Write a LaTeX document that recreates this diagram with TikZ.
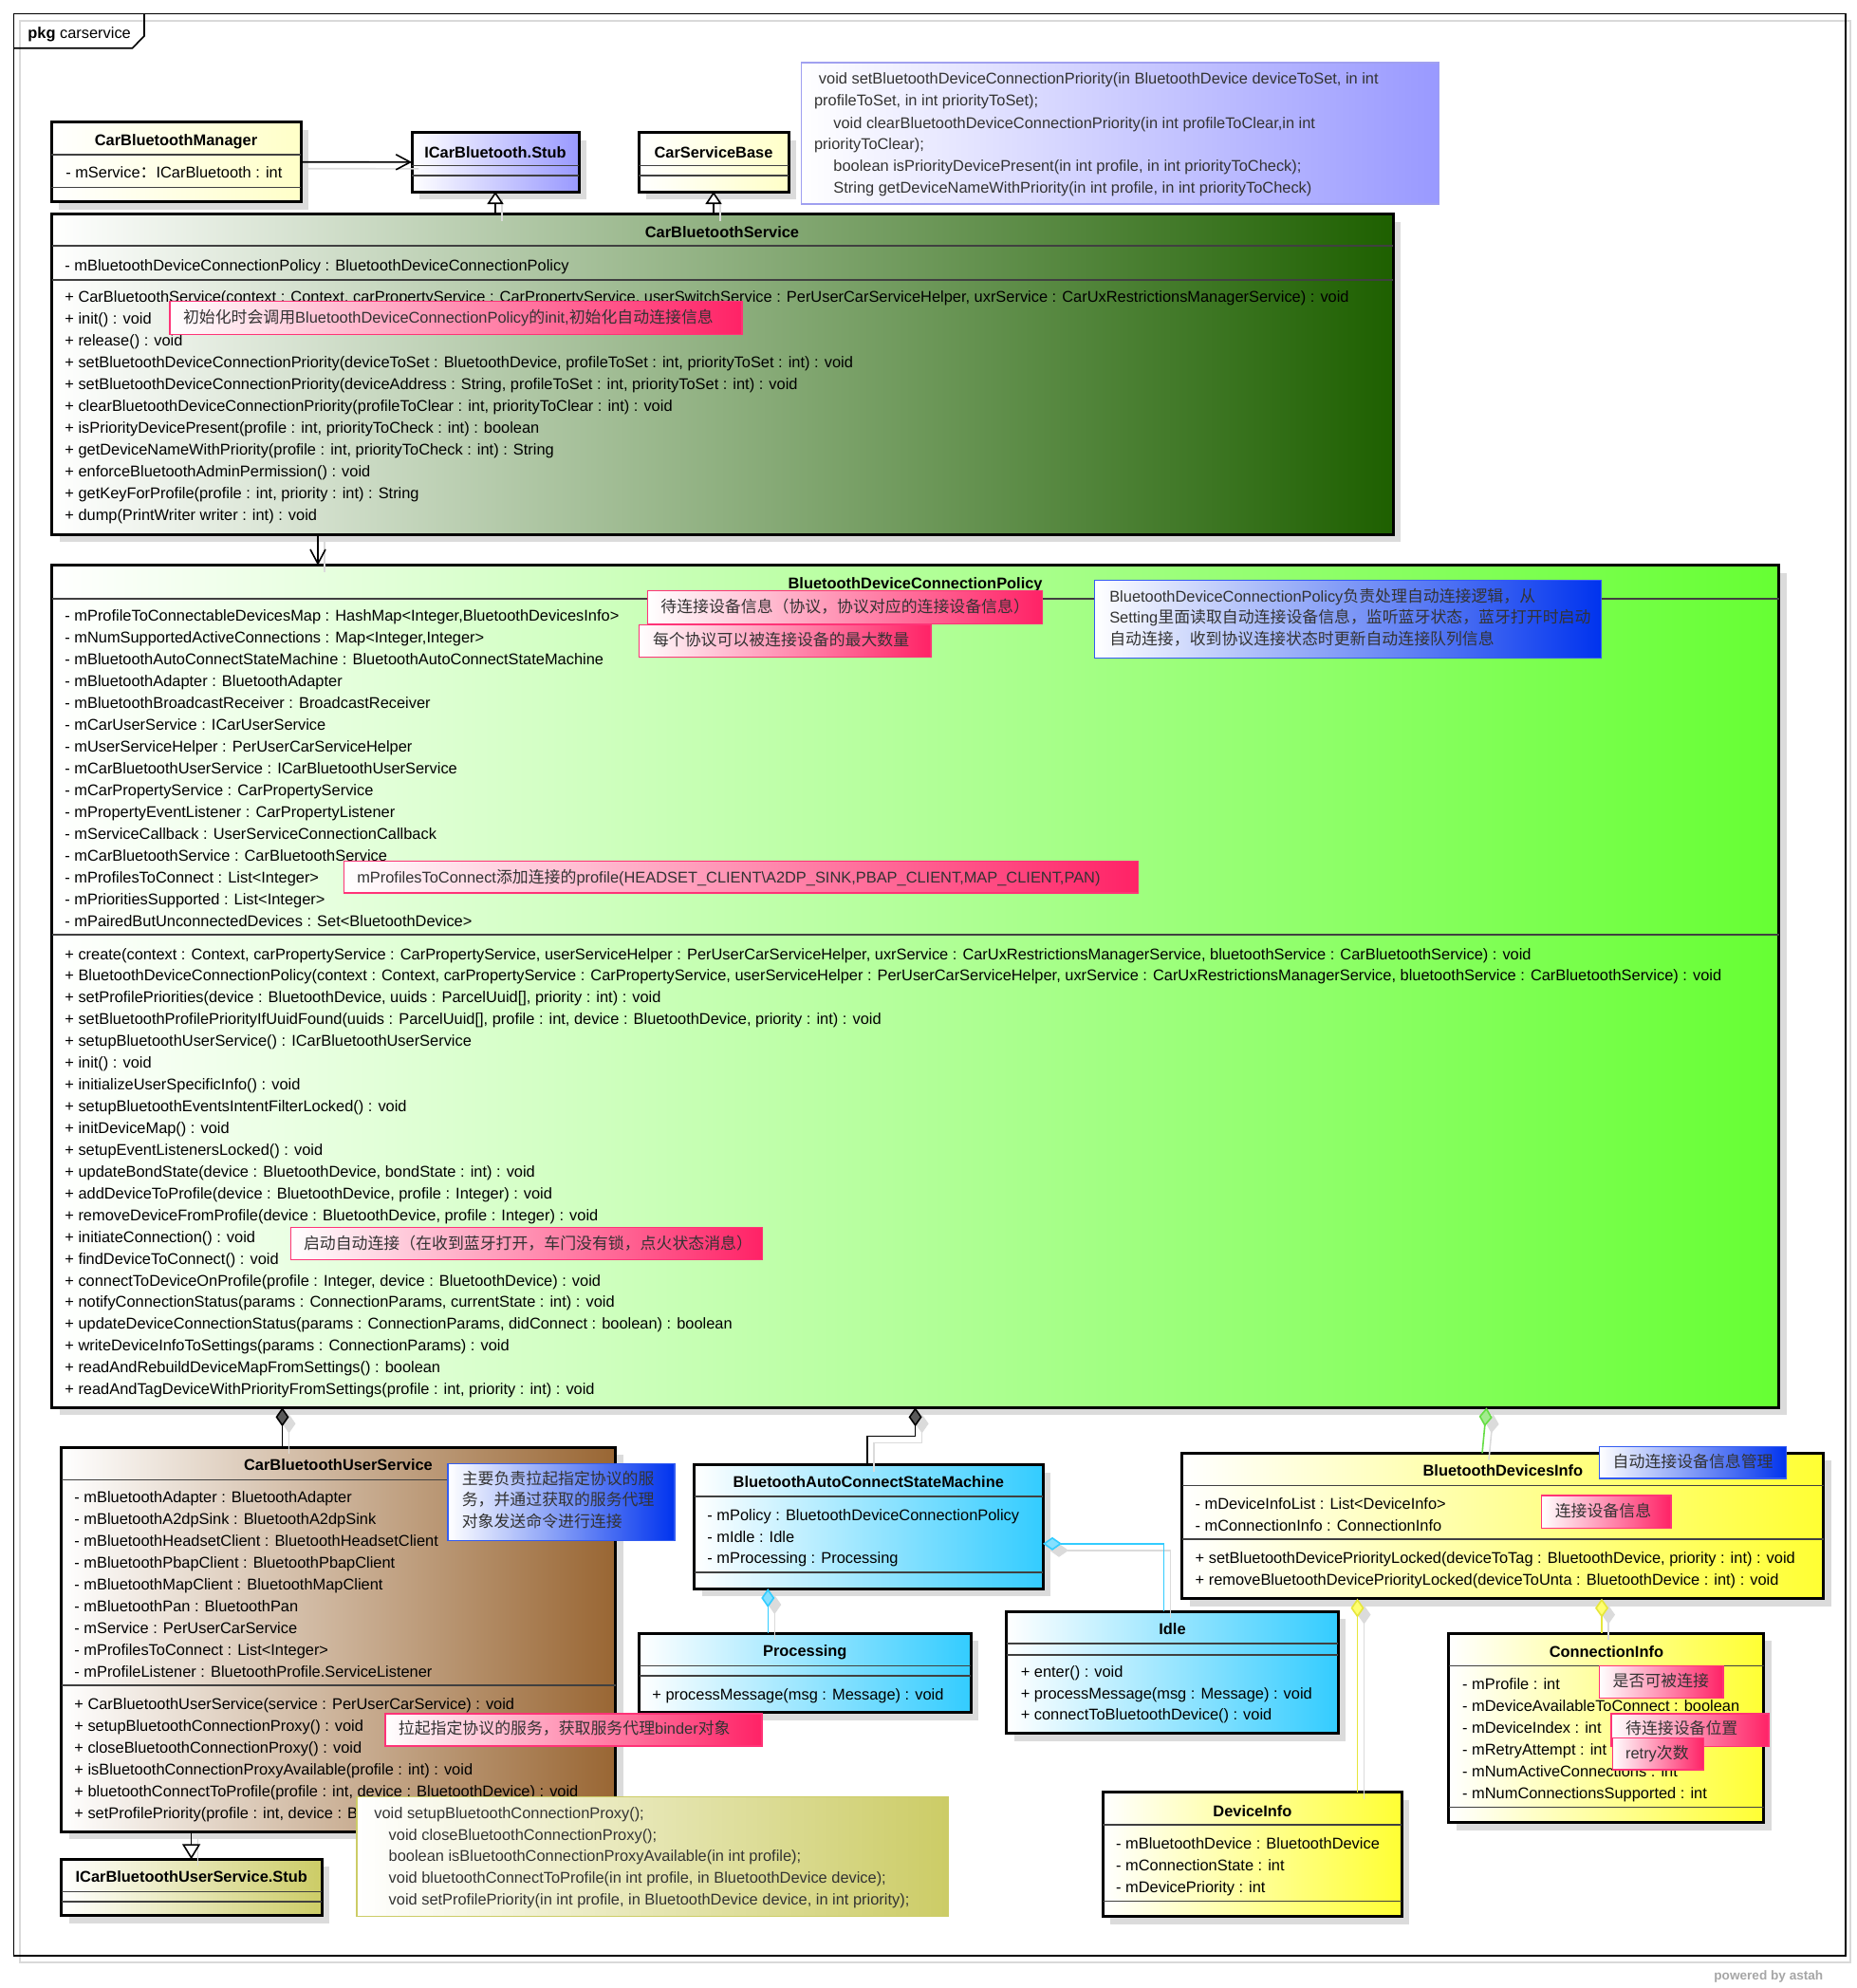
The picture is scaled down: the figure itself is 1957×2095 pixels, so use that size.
\documentclass[tikz,border=0pt]{standalone}
\usepackage{fontspec}
\setmainfont{Liberation Sans}
\newfontfamily\cjk[Scale=1.03]{Noto Sans CJK SC}
\usetikzlibrary{arrows.meta,fit,shadows}
\newcommand\zh[1]{{\cjk #1}}
\definecolor{ylw}{RGB}{255,255,200}
\definecolor{stubc}{RGB}{153,153,255}
\definecolor{cbsg}{RGB}{30,96,0}
\definecolor{bdcpg}{RGB}{102,255,51}
\definecolor{brownc}{RGB}{153,102,51}
\definecolor{olivec}{RGB}{204,204,102}
\definecolor{cyanc}{RGB}{51,204,255}
\definecolor{yelc}{RGB}{255,255,51}
\definecolor{pinkc}{RGB}{255,34,102}
\definecolor{pinkb}{RGB}{255,51,119}
\definecolor{bluec}{RGB}{0,51,238}
\definecolor{purpb}{RGB}{160,160,240}
\definecolor{greenl}{RGB}{102,221,68}
\definecolor{yell}{RGB}{230,230,60}
\newcommand\cls[6]{\node[clsbox, left color=white, right color=#6, fit={(#2,#3) (#4,#5)}] (#1) {};}
\newcommand\sepl[3]{\draw[sepline] (#1,#3) -- (#2,#3);}
\newcommand\txtlines[5]{\foreach \itm [count=\idx] in {#5} {\node[txt] (#1\idx) at (#2,{#3+5+(\idx-1)*#4}) {\itm};}}
\begin{document}
\begin{tikzpicture}[x=0.5pt,y=-0.5pt,
  txt/.style={inner sep=0, font=\fontsize{8.2}{9.8}\selectfont, anchor=base west},
  ntxt/.style={txt, text=black!80},
  ttl/.style={inner sep=0, font=\bfseries\fontsize{8.2}{9.8}\selectfont, anchor=base},
  clsbox/.style={draw=black, line width=1.5pt, inner sep=0, outer sep=0,
    drop shadow={shadow xshift=4pt, shadow yshift=-4pt, fill=black!14, opacity=1}},
  sepline/.style={draw=black!75, line width=0.8pt},
  notebox/.style={inner sep=0, outer sep=0, line width=0.7pt},
  pinknote/.style={notebox, draw=pinkb, left color=white, right color=pinkc},
  bluenote/.style={notebox, draw=bluec!80, left color=white, right color=bluec},
  purpnote/.style={notebox, draw=purpb, left color=white, right color=stubc},
  olivenote/.style={notebox, draw=olivec, left color=white, right color=olivec},
  conn/.style={draw=black, line width=0.8pt},
  shd/.style={draw=black!14, line width=0.8pt, transform canvas={shift={(3.5pt,-3.5pt)}}},
  assoc/.style={conn, -{Straight Barb[length=7.5pt,width=8pt]}},
  gen/.style={conn, -{Triangle[length=6.5pt,width=8.5pt,fill=white]}},
  compk/.style={conn, {Diamond[length=10pt,width=7pt,fill=black!65]}-},
  compc/.style={conn, draw=cyanc, {Diamond[length=10pt,width=7pt,fill=cyanc!60]}-},
  compg/.style={conn, draw=greenl, {Diamond[length=10pt,width=7pt,fill=greenl!60]}-},
  compy/.style={conn, draw=yell, {Diamond[length=10pt,width=7pt,fill=yelc!70]}-},
  shdd/.style={shd, {Diamond[length=10pt,width=7pt,fill=black!14]}-},
]
\useasboundingbox (0,0) rectangle (1957,2095);
% frame
\draw[black!15, line width=0.8pt] (21,21.7) rectangle (1950,2068);
\node[draw=black, line width=0.8pt, inner sep=0, outer sep=0, fit={(14.4,14.3) (1945,2060.7)}] (frame) {};
\draw[line width=0.8pt] (14.4,50.7) -- (139.5,50.7) -- (152,38) -- (152,14.3);
\node[txt] (pkg) at (29,40.7) {\textbf{pkg} carservice};
\node[txt, anchor=base west, font=\bfseries\fontsize{6.8}{8}\selectfont, text=black!35] (astah) at (1806,2086) {powered by astah};

% ---------- classes ----------
\cls{cbm}{54}{128.7}{317}{212.7}{ylw}
\sepl{54}{317}{162.7}\sepl{54}{317}{197.3}
\node[ttl] (cbmt) at (185.5,153.7) {CarBluetoothManager};
\node[txt] (cbma) at (68.9,187.7) {- mService\zh{：}ICarBluetooth : int};

\cls{stub}{434}{139.7}{610}{202}{stubc}
\sepl{434}{610}{174.3}\sepl{434}{610}{185}
\node[ttl] (stubt) at (522,166) {ICarBluetooth.Stub};

\cls{csb}{673}{139.7}{831}{202}{ylw}
\sepl{673}{831}{174.3}\sepl{673}{831}{185}
\node[ttl] (csbt) at (752,166) {CarServiceBase};

\cls{cbs}{54.5}{225.7}{1468}{563}{cbsg}
\sepl{54.5}{1468}{259}\sepl{54.5}{1468}{294.7}
\node[ttl] (cbst) at (761,250.3) {CarBluetoothService};
\node[txt] (cbsa1) at (68,285) {- mBluetoothDeviceConnectionPolicy : BluetoothDeviceConnectionPolicy};
\txtlines{cbsm}{68}{313.3}{23}{{+ CarBluetoothService(context : Context, carPropertyService : CarPropertyService, userSwitchService : PerUserCarServiceHelper, uxrService : CarUxRestrictionsManagerService) : void},{+ init() : void},{+ release() : void},{+ setBluetoothDeviceConnectionPriority(deviceToSet : BluetoothDevice, profileToSet : int, priorityToSet : int) : void},{+ setBluetoothDeviceConnectionPriority(deviceAddress : String, profileToSet : int, priorityToSet : int) : void},{+ clearBluetoothDeviceConnectionPriority(profileToClear : int, priorityToClear : int) : void},{+ isPriorityDevicePresent(profile : int, priorityToCheck : int) : boolean},{+ getDeviceNameWithPriority(profile : int, priorityToCheck : int) : String},{+ enforceBluetoothAdminPermission() : void},{+ getKeyForProfile(profile : int, priority : int) : String},{+ dump(PrintWriter writer : int) : void}}

\cls{bdcp}{54.7}{595.7}{1874.5}{1483.3}{bdcpg}
\sepl{54.7}{1874.5}{630.7}\sepl{54.7}{1874.5}{985}
\node[ttl] (bdcpt) at (964.6,620) {BluetoothDeviceConnectionPolicy};
\txtlines{bdcpa}{68}{649.3}{23}{{- mProfileToConnectableDevicesMap : HashMap<Integer,BluetoothDevicesInfo>},{- mNumSupportedActiveConnections : Map<Integer,Integer>},{- mBluetoothAutoConnectStateMachine : BluetoothAutoConnectStateMachine},{- mBluetoothAdapter : BluetoothAdapter},{- mBluetoothBroadcastReceiver : BroadcastReceiver},{- mCarUserService : ICarUserService},{- mUserServiceHelper : PerUserCarServiceHelper},{- mCarBluetoothUserService : ICarBluetoothUserService},{- mCarPropertyService : CarPropertyService},{- mPropertyEventListener : CarPropertyListener},{- mServiceCallback : UserServiceConnectionCallback},{- mCarBluetoothService : CarBluetoothService},{- mProfilesToConnect : List<Integer>},{- mPrioritiesSupported : List<Integer>},{- mPairedButUnconnectedDevices : Set<BluetoothDevice>}}
\txtlines{bdcpm}{68}{1006}{22.935}{{+ create(context : Context, carPropertyService : CarPropertyService, userServiceHelper : PerUserCarServiceHelper, uxrService : CarUxRestrictionsManagerService, bluetoothService : CarBluetoothService) : void},{+ BluetoothDeviceConnectionPolicy(context : Context, carPropertyService : CarPropertyService, userServiceHelper : PerUserCarServiceHelper, uxrService : CarUxRestrictionsManagerService, bluetoothService : CarBluetoothService) : void},{+ setProfilePriorities(device : BluetoothDevice, uuids : ParcelUuid[], priority : int) : void},{+ setBluetoothProfilePriorityIfUuidFound(uuids : ParcelUuid[], profile : int, device : BluetoothDevice, priority : int) : void},{+ setupBluetoothUserService() : ICarBluetoothUserService},{+ init() : void},{+ initializeUserSpecificInfo() : void},{+ setupBluetoothEventsIntentFilterLocked() : void},{+ initDeviceMap() : void},{+ setupEventListenersLocked() : void},{+ updateBondState(device : BluetoothDevice, bondState : int) : void},{+ addDeviceToProfile(device : BluetoothDevice, profile : Integer) : void},{+ removeDeviceFromProfile(device : BluetoothDevice, profile : Integer) : void},{+ initiateConnection() : void},{+ findDeviceToConnect() : void},{+ connectToDeviceOnProfile(profile : Integer, device : BluetoothDevice) : void},{+ notifyConnectionStatus(params : ConnectionParams, currentState : int) : void},{+ updateDeviceConnectionStatus(params : ConnectionParams, didConnect : boolean) : boolean},{+ writeDeviceInfoToSettings(params : ConnectionParams) : void},{+ readAndRebuildDeviceMapFromSettings() : boolean},{+ readAndTagDeviceWithPriorityFromSettings(profile : int, priority : int) : void}}

\cls{cbus}{64.6}{1525}{648.5}{1930}{brownc}
\sepl{64.6}{648.5}{1559.3}\sepl{64.6}{648.5}{1776}
\node[ttl] (cbust) at (356.5,1549.3) {CarBluetoothUserService};
\txtlines{cbusa}{78}{1578.7}{23}{{- mBluetoothAdapter : BluetoothAdapter},{- mBluetoothA2dpSink : BluetoothA2dpSink},{- mBluetoothHeadsetClient : BluetoothHeadsetClient},{- mBluetoothPbapClient : BluetoothPbapClient},{- mBluetoothMapClient : BluetoothMapClient},{- mBluetoothPan : BluetoothPan},{- mService : PerUserCarService},{- mProfilesToConnect : List<Integer>},{- mProfileListener : BluetoothProfile.ServiceListener}}
\txtlines{cbusm}{78}{1796}{23.14}{{+ CarBluetoothUserService(service : PerUserCarService) : void},{+ setupBluetoothConnectionProxy() : void},{+ closeBluetoothConnectionProxy() : void},{+ isBluetoothConnectionProxyAvailable(profile : int) : void},{+ bluetoothConnectToProfile(profile : int, device : BluetoothDevice) : void},{+ setProfilePriority(profile : int, device : BluetoothDevice, priority : int) : void}}

\cls{ustub}{64.6}{1959.3}{339}{2018.7}{olivec}
\sepl{64.6}{339}{1993.3}\sepl{64.6}{339}{2004}
\node[ttl] (ustubt) at (201.8,1983.7) {ICarBluetoothUserService.Stub};

\cls{bacsm}{731.6}{1543.6}{1099}{1674}{cyanc}
\sepl{731.6}{1099}{1576.8}\sepl{731.6}{1099}{1657}
\node[ttl] (bacsmt) at (915.3,1567.5) {BluetoothAutoConnectStateMachine};
\txtlines{bacsma}{745}{1597.5}{22.7}{{- mPolicy : BluetoothDeviceConnectionPolicy},{- mIdle : Idle},{- mProcessing : Processing}}

\cls{proc}{673.6}{1721.4}{1023}{1804.6}{cyanc}
\sepl{673.6}{1023}{1755.4}\sepl{673.6}{1023}{1766}
\node[ttl] (proct) at (848.3,1745.4) {Processing};
\node[txt] (procm1) at (687,1791.4) {+ processMessage(msg : Message) : void};

\cls{idle}{1060.6}{1698.2}{1410.4}{1826.8}{cyanc}
\sepl{1060.6}{1410.4}{1732}\sepl{1060.6}{1410.4}{1744}
\node[ttl] (idlet) at (1235.5,1722) {Idle};
\txtlines{idlem}{1075.4}{1762.5}{22.7}{{+ enter() : void},{+ processMessage(msg : Message) : void},{+ connectToBluetoothDevice() : void}}

\cls{bdi}{1245.9}{1531.4}{1921.8}{1684.6}{yelc}
\sepl{1245.9}{1921.8}{1565.4}\sepl{1245.9}{1921.8}{1622.1}
\node[ttl] (bdit) at (1583.9,1555) {BluetoothDevicesInfo};
\txtlines{bdia}{1259.3}{1585}{23.2}{{- mDeviceInfoList : List<DeviceInfo>},{- mConnectionInfo : ConnectionInfo}}
\txtlines{bdim}{1259.3}{1642.1}{23.3}{{+ setBluetoothDevicePriorityLocked(deviceToTag : BluetoothDevice, priority : int) : void},{+ removeBluetoothDevicePriorityLocked(deviceToUnta : BluetoothDevice : int) : void}}

\cls{dinfo}{1162.4}{1888.6}{1477.3}{2019.6}{yelc}
\sepl{1162.4}{1477.3}{1923.2}\sepl{1162.4}{1477.3}{2003.6}
\node[ttl] (dinfot) at (1319.9,1914) {DeviceInfo};
\txtlines{dinfoa}{1175.8}{1943.6}{22.85}{{- mBluetoothDevice : BluetoothDevice},{- mConnectionState : int},{- mDevicePriority : int}}

\cls{cinfo}{1526.9}{1721.4}{1858.9}{1920.7}{yelc}
\sepl{1526.9}{1858.9}{1755.4}\sepl{1526.9}{1858.9}{1904.6}
\node[ttl] (cinfot) at (1692.9,1746.4) {ConnectionInfo};
\txtlines{cinfoa}{1540.8}{1775}{23.08}{{- mProfile : int},{- mDeviceAvailableToConnect : boolean},{- mDeviceIndex : int},{- mRetryAttempt : int},{- mNumActiveConnections : int},{- mNumConnectionsSupported : int}}

% ---------- connector coordinates ----------
\coordinate (xa) at (335,0);
\coordinate (xc1) at (297.5,0);
\coordinate (k1) at (964.6,1513.6);
\coordinate (k2) at (914.2,1513.6);
\coordinate (xg1) at (1566.6,0);
\coordinate (xg2) at (1562,0);
\coordinate (xp) at (809.3,0);
\coordinate (yi) at (0,1626.8);
\coordinate (xi) at (1226.3,0);
\coordinate (xd) at (1430.5,0);
\coordinate (xci) at (1688,0);
\coordinate (xu) at (201.6,0);

% shadows of connectors
\draw[shd] (cbm.east) -- (stub.west);
\draw[shd] (cbs.north -| stub.south) -- (stub.south);
\draw[shd] (cbs.north -| csb.south) -- (csb.south);
\draw[shd] (cbs.south -| xa) -- (bdcp.north -| xa);
\draw[shdd] (bdcp.south -| xc1) -- (cbus.north -| xc1);
\draw[shdd] (bdcp.south -| k1) -- (k1) -- (k2) -- (bacsm.north -| k2);
\draw[shdd] (bdcp.south -| xg1) -- (bdi.north -| xg2);
\draw[shdd] (bacsm.south -| xp) -- (proc.north -| xp);
\draw[shdd] (bacsm.east |- yi) -| (idle.north -| xi);
\draw[shdd] (bdi.south -| xd) -- (dinfo.north -| xd);
\draw[shdd] (bdi.south -| xci) -- (cinfo.north -| xci);
\draw[shd] (cbus.south -| xu) -- (ustub.north -| xu);

% connectors
\draw[assoc] (cbm.east) -- (stub.west);
\draw[gen] (cbs.north -| stub.south) -- (stub.south);
\draw[gen] (cbs.north -| csb.south) -- (csb.south);
\draw[assoc] (cbs.south -| xa) -- (bdcp.north -| xa);
\draw[compk] (bdcp.south -| xc1) -- (cbus.north -| xc1);
\draw[compk] (bdcp.south -| k1) -- (k1) -- (k2) -- (bacsm.north -| k2);
\draw[compg] (bdcp.south -| xg1) -- (bdi.north -| xg2);
\draw[compc] (bacsm.south -| xp) -- (proc.north -| xp);
\draw[compc] (bacsm.east |- yi) -| (idle.north -| xi);
\draw[compy] (bdi.south -| xd) -- (dinfo.north -| xd);
\draw[compy] (bdi.south -| xci) -- (cinfo.north -| xci);
\draw[conn, -{Triangle[length=8pt,width=9.5pt,fill=white]}] (cbus.south -| xu) -- (ustub.north -| xu);

% ---------- notes ----------
\node[purpnote, fit={(844.7,66) (1516.6,215)}] (n0) {};
\node[ntxt] (n0a) at (858,88.3) {\ void setBluetoothDeviceConnectionPriority(in BluetoothDevice deviceToSet, in int};
\node[ntxt] (n0b) at (857.7,111.7) {profileToSet, in int priorityToSet);};
\node[ntxt] (n0c) at (878,135) {void clearBluetoothDeviceConnectionPriority(in int profileToClear,in int};
\node[ntxt] (n0d) at (857.7,157.7) {priorityToClear);};
\node[ntxt] (n0e) at (878,180.3) {boolean isPriorityDevicePresent(in int profile, in int priorityToCheck);};
\node[ntxt] (n0f) at (878,203.3) {String getDeviceNameWithPriority(in int profile, in int priorityToCheck)};

\node[pinknote, fit={(178.8,317.7) (782,352.3)}] (n1) {};
\node[ntxt] (n1t) at (192.6,340) {\zh{初始化时会调用}BluetoothDeviceConnectionPolicy\zh{的}init,\zh{初始化自动连接信息}};

\node[pinknote, fit={(682.5,622.7) (1098.3,657.7)}] (n2) {};
\node[ntxt] (n2t) at (696,645) {\zh{待连接设备信息（协议，协议对应的连接设备信息）}};
\node[pinknote, fit={(673.7,658.3) (981,692.7)}] (n3) {};
\node[ntxt] (n3t) at (687.6,680) {\zh{每个协议可以被连接设备的最大数量}};

\node[bluenote, fit={(1153.6,611.7) (1687.2,693.3)}] (n4) {};
\node[ntxt] (n4a) at (1168.9,634.3) {BluetoothDeviceConnectionPolicy\zh{负责处理自动连接逻辑，从}};
\node[ntxt] (n4b) at (1168.9,656.7) {Setting\zh{里面读取自动连接设备信息，监听蓝牙状态，蓝牙打开时启动}};
\node[ntxt] (n4c) at (1168.9,679.3) {\zh{自动连接，收到协议连接状态时更新自动连接队列信息}};

\node[pinknote, fit={(362.7,907.7) (1199.6,941)}] (n5) {};
\node[ntxt] (n5t) at (375.9,930) {mProfilesToConnect\zh{添加连接的}profile(HEADSET\_CLIENT\textbackslash A2DP\_SINK,PBAP\_CLIENT,MAP\_CLIENT,PAN)};

\node[pinknote, fit={(306.6,1293.3) (803.3,1327.3)}] (n6) {};
\node[ntxt] (n6t) at (319.6,1316.7) {\zh{启动自动连接（在收到蓝牙打开，车门没有锁，点火状态消息）}};

\node[bluenote, fit={(472,1542.7) (711,1623.3)}] (n7) {};
\node[ntxt] (n7a) at (486.4,1564.3) {\zh{主要负责拉起指定协议的服}};
\node[ntxt] (n7b) at (486.4,1586.7) {\zh{务，并通过获取的服务代理}};
\node[ntxt] (n7c) at (486.4,1609.7) {\zh{对象发送命令进行连接}};

\node[pinknote, fit={(406,1806) (803,1840)}] (n8) {};
\node[ntxt] (n8t) at (419.5,1827.7) {\zh{拉起指定协议的服务，获取服务代理}binder\zh{对象}};

\node[olivenote, fit={(375.8,1893.3) (998.8,2019.3)}] (n9) {};
\node[ntxt] (n9a) at (394,1916.7) {void setupBluetoothConnectionProxy();};
\node[ntxt] (n9b) at (409.3,1939.3) {void closeBluetoothConnectionProxy();};
\node[ntxt] (n9c) at (409.3,1961.7) {boolean isBluetoothConnectionProxyAvailable(in int profile);};
\node[ntxt] (n9d) at (409.3,1984.3) {void bluetoothConnectToProfile(in int profile, in BluetoothDevice device);};
\node[ntxt] (n9e) at (409.3,2007.7) {void setProfilePriority(in int profile, in BluetoothDevice device, in int priority);};

\node[bluenote, fit={(1685.5,1524.3) (1882.7,1557.9)}] (n10) {};
\node[ntxt] (n10t) at (1699.3,1546) {\zh{自动连接设备信息管理}};
\node[pinknote, fit={(1624.5,1576) (1760.8,1610.7)}] (n11) {};
\node[ntxt] (n11t) at (1638.4,1598.6) {\zh{连接设备信息}};
\node[pinknote, fit={(1685.5,1755.4) (1815.8,1789.3)}] (n12) {};
\node[ntxt] (n12t) at (1699.3,1777) {\zh{是否可被连接}};
\node[pinknote, fit={(1697.8,1806) (1863.8,1840.4)}] (n13) {};
\node[ntxt] (n13t) at (1712.7,1827.5) {\zh{待连接设备位置}};
\node[pinknote, fit={(1699.3,1831.4) (1795.5,1865)}] (n14) {};
\node[ntxt] (n14t) at (1712.7,1853.2) {retry\zh{次数}};
\end{tikzpicture}
\end{document}
